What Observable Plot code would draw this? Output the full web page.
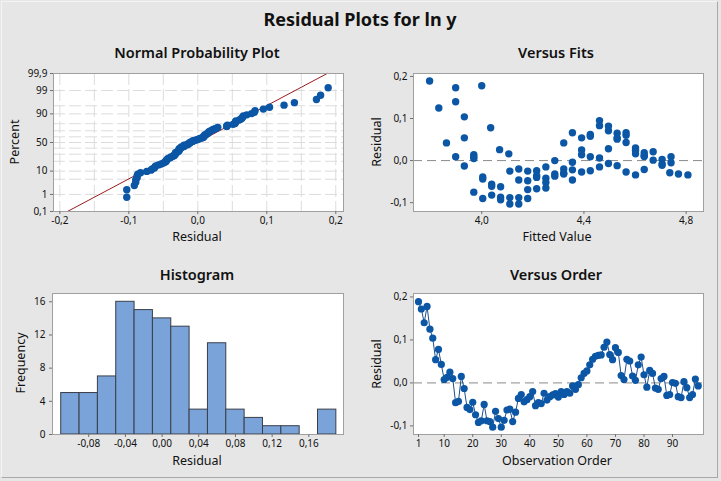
<!DOCTYPE html>
<html>
<head>
<meta charset="utf-8">
<script src="https://cdn.jsdelivr.net/npm/d3@7"></script>
<script src="https://cdn.jsdelivr.net/npm/@observablehq/plot@0.6"></script>
<style>
  html, body { margin: 0; padding: 0; background: #e6e6e6; }
  #root { position: relative; width: 721px; height: 481px; background: #e6e6e6; overflow: hidden;
          font-family: "Noto Sans", "Open Sans", sans-serif; color: #111; }
  #root .frameBorder { position: absolute; left: 1px; top: 1px; width: 717px; height: 477px;
          border-top: 1px solid #f4f4f4; border-left: 1px solid #f4f4f4;
          border-right: 1px solid #a8a8a8; border-bottom: 1px solid #a8a8a8; box-sizing: border-box; }
  .panel { position: absolute; }
  .txt { position: absolute; white-space: nowrap; text-align: center; }
</style>
</head>
<body>
<div id="root"><div class="frameBorder"></div></div>
<script>
// ---------------- data ----------------
// residuals in observation order (observations 1..99)
const residualsByOrder = [
  0.189, 0.172, 0.140, 0.178, 0.125, 0.104, 0.054, 0.078, 0.043, 0.008,
  0.013, 0.025, 0.010, -0.046, -0.043, 0.015, -0.013, -0.057, -0.062, -0.045,
  -0.074, -0.092, -0.088, -0.050, -0.088, -0.090, -0.103, -0.066, -0.083, -0.103,
  -0.087, -0.063, -0.061, -0.090, -0.068, -0.036, -0.027, -0.044, -0.039, -0.032,
  -0.020, -0.053, -0.046, -0.048, -0.024, -0.040, -0.032, -0.028, -0.025, -0.033,
  -0.020, -0.027, -0.020, -0.024, -0.007, -0.015, -0.004, 0.012, 0.022, 0.028,
  0.042, 0.055, 0.062, 0.064, 0.065, 0.083, 0.095, 0.066, 0.054, 0.082,
  0.071, 0.017, 0.008, 0.055, 0.051, 0.016, 0.006, 0.042, 0.060, 0.019,
  -0.010, 0.029, 0.022, -0.012, -0.015, 0.010, 0.015, -0.029, -0.027, 0.001,
  -0.001, -0.032, -0.034, 0.003, -0.011, -0.034, -0.027, 0.009, -0.007
];

// Versus Fits: fitted value / residual pairs
const fittedValues = [
  3.796, 3.832, 3.862, 3.898, 3.898, 3.898, 3.932, 3.932, 3.932,
  3.969, 3.969, 3.969, 3.969, 4.000, 4.004, 4.004, 4.004,
  4.035, 4.039, 4.039, 4.039, 4.070, 4.074, 4.074, 4.074,
  4.106, 4.110, 4.110, 4.110, 4.145, 4.145, 4.145, 4.145,
  4.180, 4.180, 4.180, 4.180, 4.215, 4.215, 4.215, 4.215,
  4.251, 4.251, 4.251, 4.251, 4.286, 4.286, 4.286,
  4.321, 4.321, 4.321, 4.321, 4.355, 4.355, 4.355, 4.355,
  4.391, 4.391, 4.391, 4.391, 4.425, 4.425, 4.425, 4.425,
  4.461, 4.461, 4.461, 4.461, 4.496, 4.496, 4.496, 4.496,
  4.530, 4.530, 4.530, 4.530, 4.565, 4.565, 4.565, 4.565,
  4.602, 4.602, 4.602, 4.602, 4.636, 4.636, 4.636, 4.636,
  4.671, 4.671, 4.706, 4.706, 4.706, 4.741, 4.741, 4.736, 4.770, 4.807
];
const fitResiduals = [
  0.189, 0.125, 0.042, 0.173, 0.140, 0.009, 0.104, 0.054, -0.013,
  0.014, 0.009, 0.005, -0.075, 0.178, -0.039, -0.044, -0.090,
  0.078, -0.056, -0.061, -0.082, 0.026, -0.062, -0.087, -0.093,
  0.016, -0.025, -0.088, -0.103, -0.020, -0.046, -0.088, -0.103,
  -0.025, -0.048, -0.069, -0.090, -0.024, -0.036, -0.040, -0.067,
  -0.015, -0.042, -0.052, -0.065, 0.000, -0.032, -0.037,
  0.042, -0.020, -0.030, -0.032, 0.066, -0.004, -0.022, -0.046,
  0.054, 0.025, 0.014, -0.027, 0.062, 0.058, 0.009, -0.024,
  0.095, 0.083, 0.006, -0.015, 0.082, 0.071, 0.028, -0.007,
  0.065, 0.054, 0.051, -0.012, 0.066, 0.060, 0.043, -0.027,
  0.030, 0.024, 0.016, -0.034, 0.019, 0.012, 0.010, -0.021,
  0.021, 0.001, 0.003, -0.008, -0.011, 0.009, -0.005, -0.029, -0.032, -0.034
];

// Histogram: bin midpoints and counts
const binMids = [-0.10, -0.08, -0.06, -0.04, -0.02, 0.00, 0.02, 0.04, 0.06, 0.08, 0.10, 0.12, 0.14, 0.16, 0.18];
const binCounts = [5, 5, 7, 16, 15, 14, 13, 3, 11, 3, 2, 1, 1, 0, 3];
const binWidth = 0.02;

// Normal probability fitted line endpoints (residual, percent)
const fitLineResidual = [-0.189, 0.1875];
const fitLinePercent = [0.1, 99.9];

// Tick labels / positions
const percentTicks = [0.1, 1, 10, 50, 90, 99, 99.9];
const percentGrid = [1, 5, 10, 20, 30, 40, 50, 60, 70, 80, 90, 95, 99];
const npXTicks = [-0.2, -0.1, 0.0, 0.1, 0.2];
const npXGrid = [-0.2, -0.15, -0.1, -0.05, 0, 0.05, 0.1, 0.15, 0.2];
const residTicks = [-0.1, 0.0, 0.1, 0.2];
const fitTicks = [4.0, 4.4, 4.8];
const histXTicks = [-0.08, -0.04, 0.00, 0.04, 0.08, 0.12, 0.16];
const histYTicks = [0, 4, 8, 12, 16];
const orderTicks = [1, 10, 20, 30, 40, 50, 60, 70, 80, 90];

// ---------------- helpers ----------------
function qnorm(p) {
  const a = [-3.969683028665376e+01, 2.209460984245205e+02, -2.759285104469687e+02, 1.383577518672690e+02, -3.066479806614716e+01, 2.506628277459239e+00];
  const b = [-5.447609879822406e+01, 1.615858368580409e+02, -1.556989798598866e+02, 6.680131188771972e+01, -1.328068155288572e+01];
  const c = [-7.784894002430293e-03, -3.223964580411365e-01, -2.400758277161838e+00, -2.549732539343734e+00, 4.374664141464968e+00, 2.938163982698783e+00];
  const d = [7.784695709041462e-03, 3.224671290700398e-01, 2.445134137142996e+00, 3.754408661907416e+00];
  const pl = 0.02425, ph = 1 - pl;
  let q, r;
  if (p < pl) { q = Math.sqrt(-2 * Math.log(p)); return (((((c[0]*q+c[1])*q+c[2])*q+c[3])*q+c[4])*q+c[5]) / ((((d[0]*q+d[1])*q+d[2])*q+d[3])*q+1); }
  if (p <= ph) { q = p - 0.5; r = q*q; return (((((a[0]*r+a[1])*r+a[2])*r+a[3])*r+a[4])*r+a[5])*q / (((((b[0]*r+b[1])*r+b[2])*r+b[3])*r+b[4])*r+1); }
  q = Math.sqrt(-2 * Math.log(1 - p)); return -(((((c[0]*q+c[1])*q+c[2])*q+c[3])*q+c[4])*q+c[5]) / ((((d[0]*q+d[1])*q+d[2])*q+d[3])*q+1);
}
const comma = (digits) => (v) => v.toFixed(digits).replace(".", ",");

const FONT = '"Noto Sans", "Open Sans", sans-serif';
const DOT = "#0b56a5";
const FRAME = "#a0a0a0";
const GRID = "#dcdcdc";
const root = document.getElementById("root");

function place(svg, left, top) {
  const wrap = document.createElement("div");
  wrap.className = "panel";
  wrap.style.left = left + "px";
  wrap.style.top = top + "px";
  wrap.appendChild(svg);
  root.appendChild(wrap);
}
function text(str, cx, cy, size, weight, rotate) {
  const el = document.createElement("div");
  el.className = "txt";
  el.textContent = str;
  el.style.fontSize = size + "px";
  el.style.fontWeight = weight;
  el.style.lineHeight = size * 1.3 + "px";
  el.style.left = cx + "px";
  el.style.top = cy + "px";
  el.style.transform = "translate(-50%, -50%)" + (rotate ? " rotate(-90deg)" : "");
  root.appendChild(el);
}
const baseStyle = { fontFamily: FONT, fontSize: "10px", color: "#111", background: "transparent", overflow: "visible" };
const axOpts = { tickSize: 3, stroke: "#707070", label: null, fontSize: 10 };

// ---------------- Normal probability plot ----------------
const n = residualsByOrder.length;
const sortedRes = residualsByOrder.slice().sort((a, b) => a - b);
const npData = sortedRes.map((r, i) => ({ r, z: qnorm((i + 1 - 0.3) / (n + 0.4)) }));
const lineData = fitLineResidual.map((r, i) => ({ r, z: qnorm(fitLinePercent[i] / 100) }));
const zEdge = qnorm(0.001);

const np = Plot.plot({
  width: 360, height: 190,
  marginLeft: 53, marginRight: 17, marginTop: 13, marginBottom: 39,
  style: baseStyle,
  x: { domain: [-0.2092, 0.2112] },
  y: { domain: [zEdge, -zEdge] },
  marks: [
    Plot.frame({ fill: "white", stroke: null }),
    Plot.gridX({ ticks: npXGrid, stroke: GRID, strokeOpacity: 1, strokeDasharray: "12,4" }),
    Plot.gridY({ ticks: percentGrid.map(p => qnorm(p / 100)), stroke: GRID, strokeOpacity: 1, strokeDasharray: "12,4" }),
    Plot.line(lineData, { x: "r", y: "z", stroke: "#9a1b1f", strokeWidth: 1 }),
    Plot.dot(npData, { x: "r", y: "z", r: 3.7, fill: DOT, stroke: null }),
    Plot.frame({ stroke: FRAME }),
    Plot.axisX({ ...axOpts, ticks: npXTicks, tickFormat: comma(1), tickPadding: 2 }),
    Plot.axisY({ ...axOpts, ticks: percentTicks.map(p => qnorm(p / 100)),
      tickFormat: (z) => { const p = percentTicks.find(t => Math.abs(qnorm(t / 100) - z) < 1e-9); return String(p).replace(".", ","); },
      tickPadding: 3 })
  ]
});
place(np, 0, 60);

// ---------------- Versus Fits ----------------
const fitData = fittedValues.map((f, i) => ({ f, r: fitResiduals[i] }));
const vf = Plot.plot({
  width: 361, height: 190,
  marginLeft: 53, marginRight: 18, marginTop: 13, marginBottom: 39,
  style: baseStyle,
  x: { domain: [3.733, 4.868] },
  y: { domain: [-0.121, 0.207] },
  marks: [
    Plot.frame({ fill: "white", stroke: null }),
    Plot.ruleY([0], { stroke: "#8a8a8a", strokeDasharray: "9,5", strokeWidth: 1 }),
    Plot.dot(fitData, { x: "f", y: "r", r: 3.7, fill: DOT, stroke: null }),
    Plot.frame({ stroke: FRAME }),
    Plot.axisX({ ...axOpts, ticks: fitTicks, tickFormat: comma(1), tickPadding: 2 }),
    Plot.axisY({ ...axOpts, ticks: residTicks, tickFormat: comma(1), tickPadding: 3 })
  ]
});
place(vf, 360, 60);

// ---------------- Histogram ----------------
const histData = binMids.map((m, i) => ({ x1: m - binWidth / 2, x2: m + binWidth / 2, y: binCounts[i] }));
const hist = Plot.plot({
  width: 360, height: 200,
  marginLeft: 52, marginRight: 17, marginTop: 13, marginBottom: 46,
  style: baseStyle,
  x: { domain: [-0.1195, 0.1978] },
  y: { domain: [0, 17] },
  marks: [
    Plot.frame({ fill: "white", stroke: null }),
    Plot.rectY(histData, { x1: "x1", x2: "x2", y: "y", fill: "#7aa3d9", stroke: "#3a3f4a", strokeWidth: 1, insetLeft: 0, insetRight: 0 }),
    Plot.frame({ stroke: FRAME }),
    Plot.axisX({ ...axOpts, ticks: histXTicks, tickFormat: comma(2), tickPadding: 2 }),
    Plot.axisY({ ...axOpts, ticks: histYTicks, tickFormat: d => String(d), tickPadding: 4 })
  ]
});
place(hist, 0, 280);

// ---------------- Versus Order ----------------
const orderData = residualsByOrder.map((r, i) => ({ o: i + 1, r }));
const vo = Plot.plot({
  width: 361, height: 200,
  marginLeft: 53, marginRight: 18, marginTop: 13, marginBottom: 46,
  style: baseStyle,
  x: { domain: [-0.75, 100.85] },
  y: { domain: [-0.12, 0.208] },
  marks: [
    Plot.frame({ fill: "white", stroke: null }),
    Plot.ruleY([0], { stroke: "#8a8a8a", strokeDasharray: "9,5", strokeWidth: 1 }),
    Plot.line(orderData, { x: "o", y: "r", stroke: "#1d4f8c", strokeWidth: 1 }),
    Plot.dot(orderData, { x: "o", y: "r", r: 3.6, fill: DOT, stroke: null }),
    Plot.frame({ stroke: FRAME }),
    Plot.axisX({ ...axOpts, ticks: orderTicks, tickFormat: d => String(d), tickPadding: 2 }),
    Plot.axisY({ ...axOpts, ticks: residTicks, tickFormat: comma(1), tickPadding: 3 })
  ]
});
place(vo, 360, 280);

// ---------------- Titles and axis labels ----------------
text("Residual Plots for ln y", 360, 20, 18, 700, false);
text("Normal Probability Plot", 197, 52, 14.5, 600, false);
text("Versus Fits", 556, 52, 14.5, 600, false);
text("Histogram", 197, 274, 14.5, 600, false);
text("Versus Order", 556, 274, 14.5, 600, false);

text("Residual", 197, 237, 12.5, 400, false);
text("Fitted Value", 557, 237, 12.5, 400, false);
text("Residual", 197, 461, 12.5, 400, false);
text("Observation Order", 557, 461, 12.5, 400, false);

text("Percent", 15, 142, 12.5, 400, true);
text("Residual", 377, 142, 12.5, 400, true);
text("Frequency", 21, 363, 12.5, 400, true);
text("Residual", 377, 364, 12.5, 400, true);
</script>
</body>
</html>
